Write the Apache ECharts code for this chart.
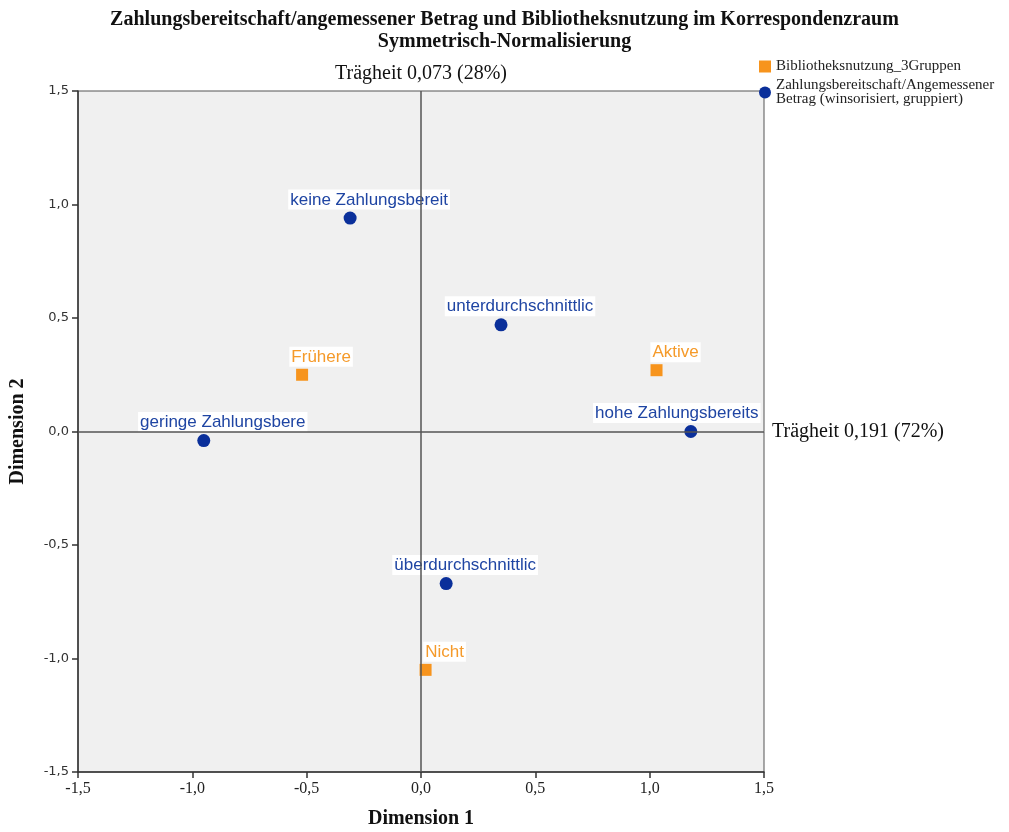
<!DOCTYPE html>
<html>
<head>
<meta charset="utf-8">
<script src="https://cdn.jsdelivr.net/npm/echarts@6/dist/echarts.min.js"></script>
<style>html,body{margin:0;padding:0;background:#fff}#c{width:1009px;height:832px}</style>
</head>
<body>
<div id="c"></div>
<script>
// --- data ---
const seriesNames = ["Bibliotheksnutzung_3Gruppen", "Zahlungsbereitschaft/Angemessener Betrag (winsorisiert, gruppiert)"];
const usageLabels = ["Aktive", "Frühere", "Nicht"];
const usageX = [1.03, -0.52, 0.02];
const usageY = [0.27, 0.25, -1.05];
const payLabels = ["keine Zahlungsbereit", "geringe Zahlungsbere", "unterdurchschnittlic", "überdurchschnittlic", "hohe Zahlungsbereits"];
const payX = [-0.31, -0.95, 0.35, 0.11, 1.18];
const payY = [0.94, -0.04, 0.47, -0.67, 0.0];
const axisTicks = [-1.5, -1.0, -0.5, 0.0, 0.5, 1.0, 1.5];
const inertiaDim1 = "Trägheit 0,191 (72%)";
const inertiaDim2 = "Trägheit 0,073 (28%)";

const fmt = v => v.toFixed(1).replace('.', ',');
const serif = '"Liberation Serif", "DejaVu Serif", serif';
const sans = '"Liberation Sans", Arial, sans-serif';

const labelBase = {
  show: true, position: 'top', distance: 2, offset: [19, 0],
  fontFamily: sans, fontSize: 17, backgroundColor: '#ffffff', padding: [2, 2, 1, 2],
  formatter: p => p.value[2]
};

const usageData = usageLabels.map((n, i) => [usageX[i], usageY[i], n]);
const payData = payLabels.map((n, i) => {
  const d = { value: [payX[i], payY[i], n] };
  if (n === "hohe Zahlungsbereits") d.label = { offset: [-14, 0] };
  return d;
});

const chart = echarts.init(document.getElementById('c'));
chart.setOption({
  animation: false,
  backgroundColor: '#ffffff',
  title: {
    text: 'Zahlungsbereitschaft/angemessener Betrag und Bibliotheksnutzung im Korrespondenzraum\nSymmetrisch-Normalisierung',
    left: 'center', top: 4,
    textStyle: { fontFamily: serif, fontWeight: 'bold', fontSize: 20, lineHeight: 22, color: '#111' }
  },
  legend: {
    orient: 'vertical', left: 759, top: 59, itemGap: 4, padding: 0,
    itemWidth: 12, itemHeight: 12,
    textStyle: { fontFamily: serif, fontSize: 15, lineHeight: 14, color: '#222' },
    formatter: n => n.replace(' Betrag', '\nBetrag')
  },
  grid: { left: 78, right: 245, top: 91, bottom: 60, outerBoundsMode: 'none', containLabel: false,
          show: true, backgroundColor: '#f0f0f0', borderColor: '#555', borderWidth: 1 },
  xAxis: {
    type: 'value', min: axisTicks[0], max: axisTicks[axisTicks.length - 1], interval: 0.5,
    name: 'Dimension 1', nameLocation: 'middle', nameGap: 37,
    nameTextStyle: { fontFamily: serif, fontWeight: 'bold', fontSize: 20, color: '#111' },
    axisLine: { onZero: false, lineStyle: { color: '#333', width: 1.5 } },
    axisTick: { show: true, length: 6, lineStyle: { color: '#333', width: 1.5 } },
    axisLabel: { formatter: fmt, fontFamily: serif, fontSize: 16, color: '#222', margin: 9 },
    splitLine: { show: false }
  },
  yAxis: {
    type: 'value', min: axisTicks[0], max: axisTicks[axisTicks.length - 1], interval: 0.5,
    name: 'Dimension 2', nameLocation: 'middle', nameGap: 50,
    nameTextStyle: { fontFamily: serif, fontWeight: 'bold', fontSize: 20, color: '#111' },
    axisLine: { onZero: false, lineStyle: { color: '#333', width: 1.5 } },
    axisTick: { show: true, length: 6, lineStyle: { color: '#333', width: 1.5 } },
    axisLabel: { formatter: fmt, fontFamily: '"DejaVu Sans", sans-serif', fontSize: 13, color: '#333', margin: 9 },
    splitLine: { show: false }
  },
  series: [
    {
      name: seriesNames[0], type: 'scatter', symbol: 'rect', symbolSize: 12,
      itemStyle: { color: '#f7941d', opacity: 1 },
      label: Object.assign({}, labelBase, { color: '#f59a2a' }),
      data: usageData, z: 3,
      markLine: {
        silent: true, symbol: 'none', animation: false,
        lineStyle: { color: '#555', width: 1.5, type: 'solid' },
        label: { show: true, position: 'end', fontFamily: serif, fontSize: 20, color: '#111' },
        data: [
          { yAxis: 0, label: { formatter: inertiaDim1, distance: 8 } },
          { xAxis: 0, label: { formatter: inertiaDim2, distance: 7 } }
        ]
      }
    },
    {
      name: seriesNames[1], type: 'scatter', symbol: 'circle', symbolSize: 13,
      itemStyle: { color: '#0a2f9a', opacity: 1 },
      label: Object.assign({}, labelBase, { color: '#1f45a3' }),
      data: payData, z: 3
    }
  ]
});
</script>
</body>
</html>
